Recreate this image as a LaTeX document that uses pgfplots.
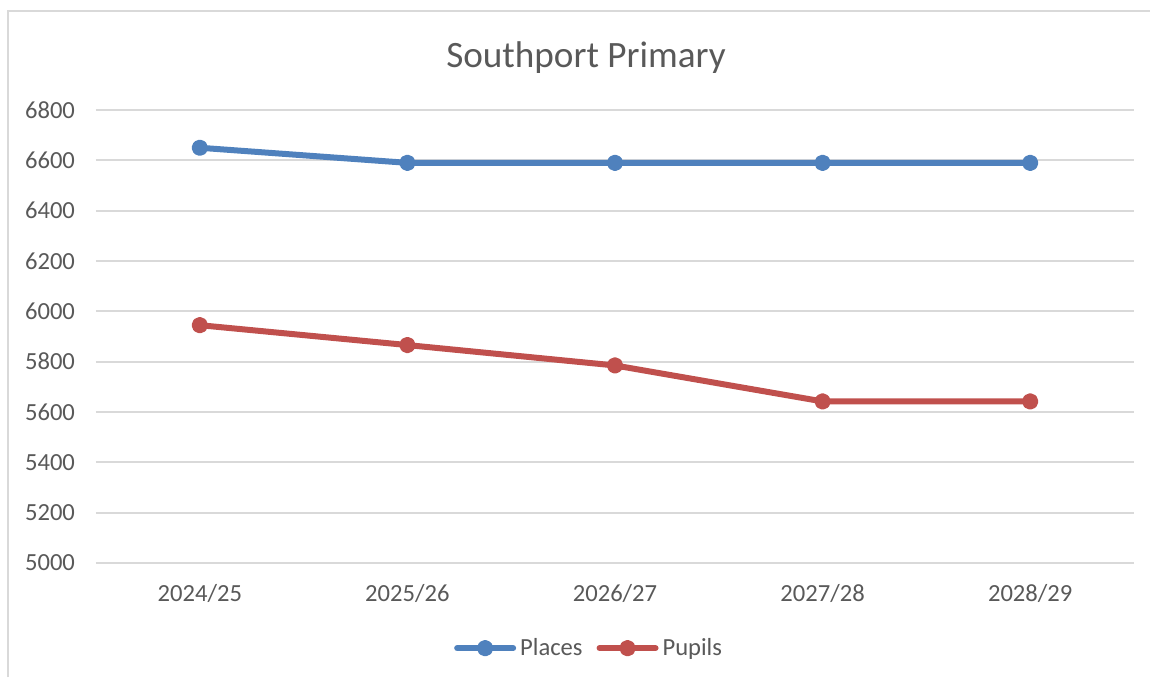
\documentclass[border=0pt]{standalone}
\usepackage{fontspec}
\setmainfont{Carlito}
\usepackage{pgfplots}
\pgfplotsset{compat=1.18}
\definecolor{txt}{HTML}{595959}
\definecolor{gridc}{HTML}{D9D9D9}
\definecolor{places}{HTML}{4F81BD}
\definecolor{pupils}{HTML}{C0504D}
\begin{document}
\begin{tikzpicture}
% 1 px of the reference = 0.5pt
\useasboundingbox (0pt,0pt) rectangle (575pt,338.5pt);
\draw[gridc, line width=1pt] (4pt,0pt) -- (4pt,333pt) -- (575pt,333pt);
\node[text=txt, font=\fontsize{18.6}{20}\selectfont] at (293pt,309.5pt) {Southport Primary};
\begin{axis}[
  at={(48pt,57pt)}, anchor=south west,
  scale only axis, width=519pt, height=226.5pt,
  xmin=-0.5, xmax=4.5, ymin=5000, ymax=6800,
  xtick={0,1,2,3,4},
  xticklabels={2024/25,2025/26,2026/27,2027/28,2028/29},
  ytick={5000,5200,...,6800},
  axis line style={draw=none},
  major tick length=0pt,
  ymajorgrids, grid style={gridc, line width=1pt},
  tick label style={text=txt, font=\fontsize{12.3}{14}\selectfont},
  /pgf/number format/assume math mode=true,
  /pgf/number format/set thousands separator={},
  yticklabel style={xshift=-7pt},
  xticklabel style={yshift=-7pt},
  legend columns=2,
  legend style={draw=none, at={(0.476,-0.188)}, anchor=center,
    font=\fontsize{12.3}{14}\selectfont, text=txt,
    /tikz/every even column/.append style={column sep=5pt}},
  legend image code/.code={
    \draw[mark repeat=2,mark phase=2] plot coordinates {(0pt,0pt)(14pt,0pt)(28pt,0pt)};},
]
\addplot[places, line width=3pt, mark=*, mark size=2.6pt, line cap=round, line join=round]
  coordinates {(0,6650) (1,6590) (2,6590) (3,6590) (4,6590)};
\addlegendentry{Places}
\addplot[pupils, line width=3pt, mark=*, mark size=2.6pt, line cap=round, line join=round]
  coordinates {(0,5945) (1,5866) (2,5785) (3,5642) (4,5642)};
\addlegendentry{Pupils}
\end{axis}
\end{tikzpicture}
\end{document}
